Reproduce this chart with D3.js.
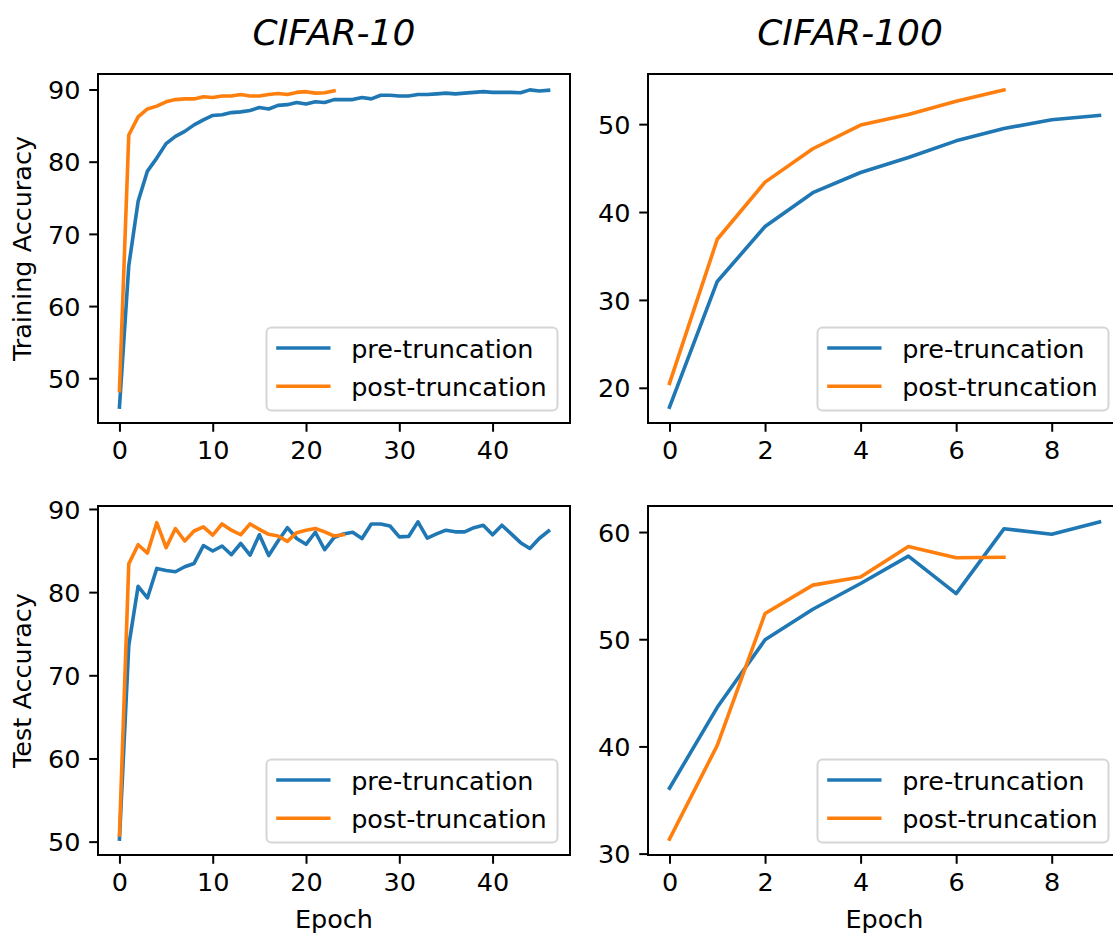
<!DOCTYPE html>
<html>
<head>
<meta charset="utf-8">
<script src="https://cdn.jsdelivr.net/npm/d3@7"></script>
<style>
  html, body { margin: 0; padding: 0; background: #fff; }
  svg { display: block; }
  text { font-family: "DejaVu Sans", sans-serif; fill: #000; }
</style>
</head>
<body>
<svg id="chart" width="1113" height="936"></svg>
<script>
// ---------------- DATA ----------------
const seriesNames = ["pre-truncation", "post-truncation"];
const colTitles = ["CIFAR-10", "CIFAR-100"];
const rowLabels = ["Training Accuracy", "Test Accuracy"];
const xLabel = "Epoch";

const c10TrainPre = [46.0, 65.6, 74.5, 78.7, 80.5, 82.5, 83.5, 84.2, 85.1, 85.8, 86.4, 86.5, 86.8, 86.9, 87.1, 87.5, 87.3, 87.8, 87.9, 88.2, 88.0, 88.3, 88.2, 88.6, 88.6, 88.6, 88.9, 88.7, 89.2, 89.2, 89.1, 89.1, 89.3, 89.3, 89.4, 89.5, 89.4, 89.5, 89.6, 89.7, 89.6, 89.6, 89.6, 89.55, 89.95, 89.8, 89.9];
const c10TrainPost = [48.3, 83.7, 86.2, 87.3, 87.7, 88.3, 88.6, 88.7, 88.7, 89.0, 88.9, 89.1, 89.1, 89.3, 89.1, 89.1, 89.3, 89.45, 89.3, 89.6, 89.7, 89.5, 89.55, 89.8];
const c10TestPre = [50.3, 73.6, 80.7, 79.3, 82.85, 82.6, 82.45, 83.05, 83.45, 85.6, 84.95, 85.55, 84.5, 85.85, 84.45, 86.9, 84.4, 86.15, 87.75, 86.45, 85.75, 87.2, 85.1, 86.55, 87.0, 87.2, 86.45, 88.2, 88.2, 87.95, 86.65, 86.7, 88.45, 86.5, 87.0, 87.45, 87.25, 87.25, 87.75, 88.05, 86.9, 88.05, 87.0, 85.95, 85.25, 86.45, 87.35];
const c10TestPost = [50.8, 83.4, 85.7, 84.7, 88.35, 85.35, 87.65, 86.15, 87.35, 87.85, 86.85, 88.2, 87.45, 86.9, 88.2, 87.55, 86.95, 86.75, 86.1, 87.15, 87.45, 87.65, 87.25, 86.75, 86.9];

const c100TrainPre = [17.8, 32.1, 38.35, 42.2, 44.5, 46.2, 48.1, 49.5, 50.5, 51.0];
const c100TrainPost = [20.5, 36.9, 43.4, 47.2, 49.9, 51.1, 52.6, 53.9];
const c100TestPre = [36.1, 43.65, 49.95, 52.8, 55.2, 57.75, 54.25, 60.3, 59.8, 60.95];
const c100TestPost = [31.35, 40.1, 52.4, 55.05, 55.8, 58.65, 57.6, 57.65];

const xTicksC10 = [0, 10, 20, 30, 40];
const xTicksC100 = [0, 2, 4, 6, 8];
const yTicksTrainC10 = [50, 60, 70, 80, 90];
const yTicksTrainC100 = [20, 30, 40, 50];
const yTicksTestC10 = [50, 60, 70, 80, 90];
const yTicksTestC100 = [30, 40, 50, 60];

const colors = ["#1f77b4", "#ff7f0e"];

// ---------------- LAYOUT ----------------
const FS = 25.5;
const tickLen = 8.75, tickPad = 8.75;
const colX = [[98, 570], [648, 1121]];
const rowY = [[74, 423], [506, 855]];
const titleX = [334, 850];

const panels = [
  {r: 0, c: 0, series: [c10TrainPre, c10TrainPost], xt: xTicksC10, yt: yTicksTrainC10},
  {r: 0, c: 1, series: [c100TrainPre, c100TrainPost], xt: xTicksC100, yt: yTicksTrainC100},
  {r: 1, c: 0, series: [c10TestPre, c10TestPost], xt: xTicksC10, yt: yTicksTestC10},
  {r: 1, c: 1, series: [c100TestPre, c100TestPost], xt: xTicksC100, yt: yTicksTestC100},
];

const svg = d3.select("#chart");

function padDomain(lo, hi) {
  const m = (hi - lo) * 0.05;
  return [lo - m, hi + m];
}

panels.forEach(p => {
  const [x0, x1] = colX[p.c];
  const [y0, y1] = rowY[p.r];
  const allVals = p.series.flat();
  const maxLen = d3.max(p.series, s => s.length);
  const x = d3.scaleLinear().domain(padDomain(0, maxLen - 1)).range([x0, x1]);
  const y = d3.scaleLinear().domain(padDomain(d3.min(allVals), d3.max(allVals))).range([y1, y0]);

  const g = svg.append("g");

  // lines
  const line = d3.line().x((d, i) => x(i)).y(d => y(d));
  p.series.forEach((s, k) => {
    g.append("path").datum(s)
      .attr("d", line)
      .attr("fill", "none")
      .attr("stroke", colors[k])
      .attr("stroke-width", 3.6)
      .attr("stroke-linejoin", "round")
      .attr("stroke-linecap", "square");
  });

  // axes
  const xa = g.append("g").attr("transform", `translate(0,${y1})`)
    .call(d3.axisBottom(x).tickValues(p.xt).tickFormat(d3.format("d")).tickSize(tickLen).tickPadding(tickPad));
  const ya = g.append("g").attr("transform", `translate(${x0},0)`)
    .call(d3.axisLeft(y).tickValues(p.yt).tickFormat(d3.format("d")).tickSize(tickLen).tickPadding(tickPad));
  [xa, ya].forEach(a => {
    a.select(".domain").remove();
    a.selectAll(".tick line").attr("stroke", "#000").attr("stroke-width", 2);
    a.selectAll(".tick text").attr("font-size", FS).attr("font-family", "DejaVu Sans").attr("fill", "#000");
  });
  xa.selectAll(".tick text").attr("dy", "0.73em");
  ya.selectAll(".tick text").attr("dy", "0.36em");

  // frame
  g.append("rect")
    .attr("x", x0).attr("y", y0)
    .attr("width", x1 - x0).attr("height", y1 - y0)
    .attr("fill", "none").attr("stroke", "#000").attr("stroke-width", 2);

  // legend
  const lw = 291, lh = 83;
  const lx = x1 - 12.5 - lw, ly = y1 - 12.5 - lh;
  const lg = g.append("g").attr("transform", `translate(${lx},${ly})`);
  lg.append("rect").attr("width", lw).attr("height", lh).attr("rx", 5).attr("ry", 5)
    .attr("fill", "#fff").attr("fill-opacity", 0.8)
    .attr("stroke", "#d6d6d6").attr("stroke-width", 2);
  seriesNames.forEach((name, k) => {
    const yy = 20.5 + k * 38.3;
    lg.append("line").attr("x1", 9.7).attr("x2", 64).attr("y1", yy).attr("y2", yy)
      .attr("stroke", colors[k]).attr("stroke-width", 3.6);
    lg.append("text").attr("x", 84.7).attr("y", yy + 9.5).attr("font-size", FS).text(name);
  });

  // y label (left column only)
  if (p.c === 0) {
    svg.append("text")
      .attr("transform", `translate(31,${(y0 + y1) / 2}) rotate(-90)`)
      .attr("text-anchor", "middle")
      .attr("font-size", FS)
      .text(rowLabels[p.r]);
  }
  // x label (bottom row only)
  if (p.r === 1) {
    svg.append("text")
      .attr("x", (x0 + x1) / 2).attr("y", 928)
      .attr("text-anchor", "middle")
      .attr("font-size", FS)
      .text(xLabel);
  }
  // column titles
  if (p.r === 0) {
    svg.append("text")
      .attr("x", titleX[p.c]).attr("y", 45)
      .attr("text-anchor", "middle")
      .attr("font-size", 36)
      .attr("font-style", "italic")
      .text(colTitles[p.c]);
  }
});
</script>
</body>
</html>
